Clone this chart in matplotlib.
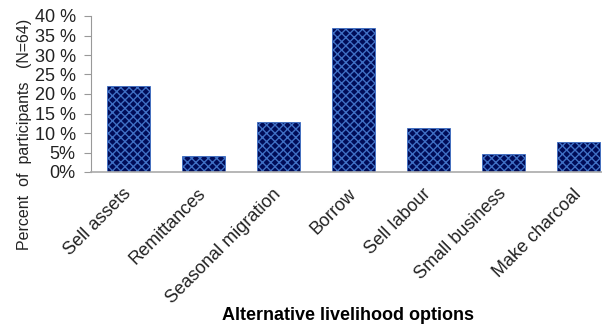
import matplotlib.pyplot as plt
import numpy as np

options = ['Sell assets', 'Remittances', 'Seasonal migration', 'Borrow',
           'Sell labour', 'Small business', 'Make charcoal']
percent = [22.0, 4.2, 12.7, 36.9, 11.3, 4.5, 7.8]
yticks = [0, 5, 10, 15, 20, 25, 30, 35, 40]

plt.rcParams['font.family'] = ['Liberation Sans', 'DejaVu Sans']
plt.rcParams['hatch.linewidth'] = 1.0

fig = plt.figure(figsize=(6.02, 3.28), dpi=100)
ax = fig.add_axes([91 / 602, 1 - 172 / 328, 525 / 602, 156 / 328])

x = np.arange(len(options))
ax.bar(x, percent, width=0.57, color='#000c58', edgecolor='#3f6fc4',
       linewidth=0.6, hatch='xxxx')

ax.set_xlim(-0.5, 6.5)
ax.set_ylim(0, 40)
ax.set_yticks(yticks)
ax.set_yticklabels([f'{t}%' if t < 10 else f'{t} %' for t in yticks],
                   fontsize=13, color='#222222')
ax.set_xticks(x)
ax.set_xticklabels(options, rotation=45, ha='right', va='center',
                   rotation_mode='anchor', fontsize=13, color='#222222')
ax.tick_params(axis='x', length=0, pad=14)
ax.tick_params(axis='y', length=5, width=0.8, color='#999999', pad=6)

for s in ['top', 'right']:
    ax.spines[s].set_visible(False)
ax.spines['left'].set_color('#999999')
ax.spines['bottom'].set_color('#aaaaaa')
ax.spines['bottom'].set_linewidth(1.2)

fig.text(0.040, 1 - 134 / 328, 'Percent  of  participants   (N=64)', rotation=90,
         ha='center', va='center', fontsize=11.5, color='#222222')
fig.text(348 / 602, 1 - 316 / 328, 'Alternative livelihood options',
         ha='center', va='center', fontsize=13, fontweight='bold')

fig.savefig('out.png', dpi=100)
